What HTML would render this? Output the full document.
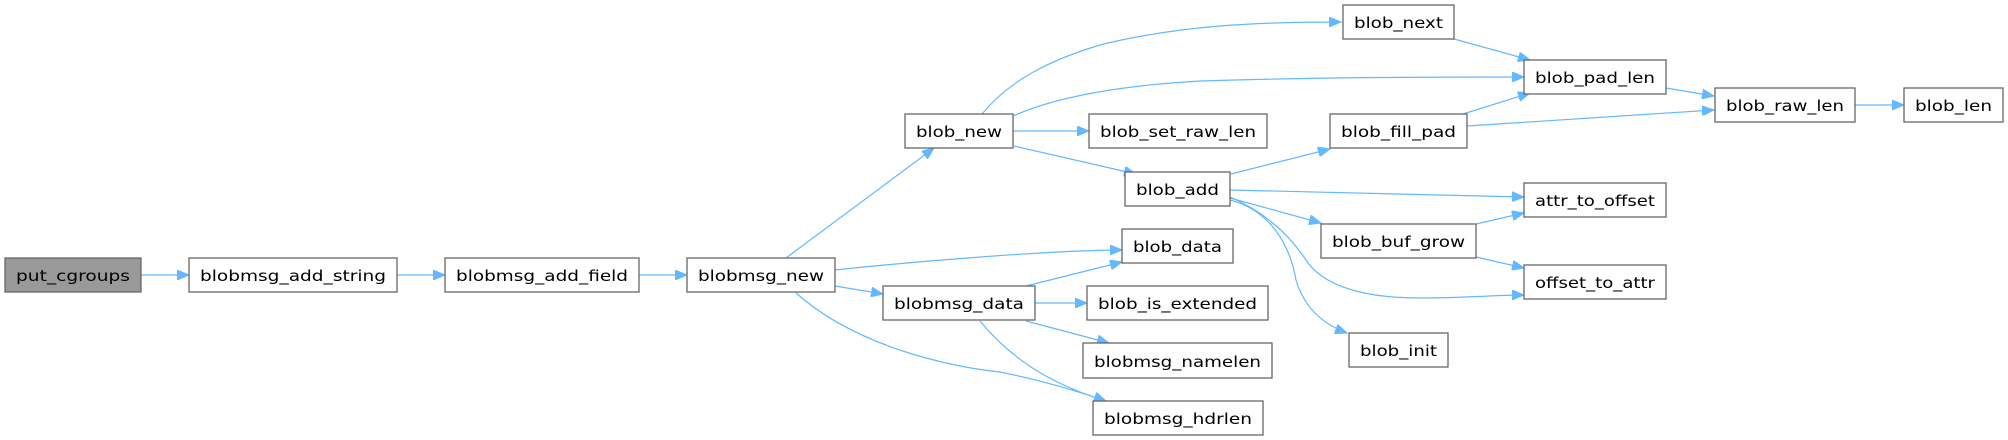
<!DOCTYPE html>
<html><head><meta charset="utf-8"><style>
html,body{margin:0;padding:0;background:#fff;}
svg{display:block;}
text{font-family:"DejaVu Sans","Liberation Sans",sans-serif;font-size:15px;fill:#000;}
rect{fill:#fff;stroke:#666;stroke-width:1.3;}
path{fill:none;stroke:#63b8ff;stroke-width:1.2;}
</style></head><body>
<svg width="2008" height="440" viewBox="0 0 2008 440" xmlns="http://www.w3.org/2000/svg">
<defs>
<marker id="a" markerUnits="userSpaceOnUse" markerWidth="14" markerHeight="10" refX="12" refY="5" orient="auto">
<path d="M0,0 L12,5 L0,10 Z" style="fill:#63b8ff;stroke:#63b8ff;stroke-width:1"/>
</marker>
</defs>
<g marker-end="url(#a)">
<path d="M141,275 L189,275"/>
<path d="M397,275 L445,275"/>
<path d="M639,275 L687,275"/>
<path d="M786,258 L934,148"/>
<path d="M835,270 C900,263 1050,250 1122,250"/>
<path d="M835,286 L883,294"/>
<path d="M796,293 C860,350 960,368 1000,372 C1040,380 1080,392 1106,401"/>
<path d="M982,114 C1010,80 1050,60 1100,45 C1180,25 1260,22 1341,22"/>
<path d="M1013,116 C1060,95 1130,85 1200,81 C1330,77 1440,77 1524,77"/>
<path d="M1013,131 L1089,131"/>
<path d="M1014,146 L1136,174"/>
<path d="M1454,39 L1530,60"/>
<path d="M1463,114 L1530,93"/>
<path d="M1467,126 L1714,110"/>
<path d="M1666,88 L1714,96"/>
<path d="M1855,105 L1904,105"/>
<path d="M1231,174 L1330,149"/>
<path d="M1230,190 L1524,197"/>
<path d="M1230,198 L1321,223"/>
<path d="M1230,197 C1265,212 1290,235 1308,263 C1330,292 1380,298 1420,298 C1460,298 1500,295 1524,295"/>
<path d="M1230,200 C1270,210 1290,245 1296,280 C1305,310 1325,325 1347,333"/>
<path d="M1476,224 L1524,213"/>
<path d="M1476,257 L1524,268"/>
<path d="M1026,286 L1122,262"/>
<path d="M1035,303 L1087,303"/>
<path d="M1026,321 L1109,343"/>
<path d="M980,321 C1020,370 1070,390 1106,401"/>
</g>
<rect x="5" y="258" width="136" height="34" style="fill:#999;stroke:#666"/>
<text x="73" y="281" text-anchor="middle" textLength="114" lengthAdjust="spacingAndGlyphs">put_cgroups</text>
<rect x="189" y="258" width="208" height="34"/>
<text x="293" y="281" text-anchor="middle" textLength="186" lengthAdjust="spacingAndGlyphs">blobmsg_add_string</text>
<rect x="445" y="258" width="194" height="34"/>
<text x="542" y="281" text-anchor="middle" textLength="172" lengthAdjust="spacingAndGlyphs">blobmsg_add_field</text>
<rect x="687" y="258" width="148" height="34"/>
<text x="761" y="281" text-anchor="middle" textLength="126" lengthAdjust="spacingAndGlyphs">blobmsg_new</text>
<rect x="905" y="114" width="108" height="34"/>
<text x="959" y="137" text-anchor="middle" textLength="86" lengthAdjust="spacingAndGlyphs">blob_new</text>
<rect x="883" y="286" width="152" height="34"/>
<text x="959" y="309" text-anchor="middle" textLength="130" lengthAdjust="spacingAndGlyphs">blobmsg_data</text>
<rect x="1343" y="5" width="111" height="34"/>
<text x="1398.5" y="28" text-anchor="middle" textLength="89" lengthAdjust="spacingAndGlyphs">blob_next</text>
<rect x="1524" y="60" width="142" height="34"/>
<text x="1595" y="83" text-anchor="middle" textLength="120" lengthAdjust="spacingAndGlyphs">blob_pad_len</text>
<rect x="1715" y="88" width="140" height="34"/>
<text x="1785" y="111" text-anchor="middle" textLength="118" lengthAdjust="spacingAndGlyphs">blob_raw_len</text>
<rect x="1904" y="88" width="99" height="34"/>
<text x="1953.5" y="111" text-anchor="middle" textLength="77" lengthAdjust="spacingAndGlyphs">blob_len</text>
<rect x="1089" y="114" width="178" height="34"/>
<text x="1178" y="137" text-anchor="middle" textLength="156" lengthAdjust="spacingAndGlyphs">blob_set_raw_len</text>
<rect x="1330" y="114" width="137" height="34"/>
<text x="1398.5" y="137" text-anchor="middle" textLength="115" lengthAdjust="spacingAndGlyphs">blob_fill_pad</text>
<rect x="1125" y="172" width="105" height="34"/>
<text x="1177.5" y="195" text-anchor="middle" textLength="83" lengthAdjust="spacingAndGlyphs">blob_add</text>
<rect x="1524" y="183" width="142" height="34"/>
<text x="1595" y="206" text-anchor="middle" textLength="120" lengthAdjust="spacingAndGlyphs">attr_to_offset</text>
<rect x="1321" y="224" width="155" height="34"/>
<text x="1398.5" y="247" text-anchor="middle" textLength="133" lengthAdjust="spacingAndGlyphs">blob_buf_grow</text>
<rect x="1524" y="265" width="142" height="34"/>
<text x="1595" y="288" text-anchor="middle" textLength="120" lengthAdjust="spacingAndGlyphs">offset_to_attr</text>
<rect x="1122" y="229" width="111" height="34"/>
<text x="1177.5" y="252" text-anchor="middle" textLength="89" lengthAdjust="spacingAndGlyphs">blob_data</text>
<rect x="1087" y="286" width="181" height="34"/>
<text x="1177.5" y="309" text-anchor="middle" textLength="159" lengthAdjust="spacingAndGlyphs">blob_is_extended</text>
<rect x="1083" y="343" width="189" height="35"/>
<text x="1177.5" y="367" text-anchor="middle" textLength="167" lengthAdjust="spacingAndGlyphs">blobmsg_namelen</text>
<rect x="1093" y="401" width="170" height="34"/>
<text x="1178" y="424" text-anchor="middle" textLength="148" lengthAdjust="spacingAndGlyphs">blobmsg_hdrlen</text>
<rect x="1349" y="333" width="99" height="34"/>
<text x="1398.5" y="356" text-anchor="middle" textLength="77" lengthAdjust="spacingAndGlyphs">blob_init</text>
</svg>
</body></html>
